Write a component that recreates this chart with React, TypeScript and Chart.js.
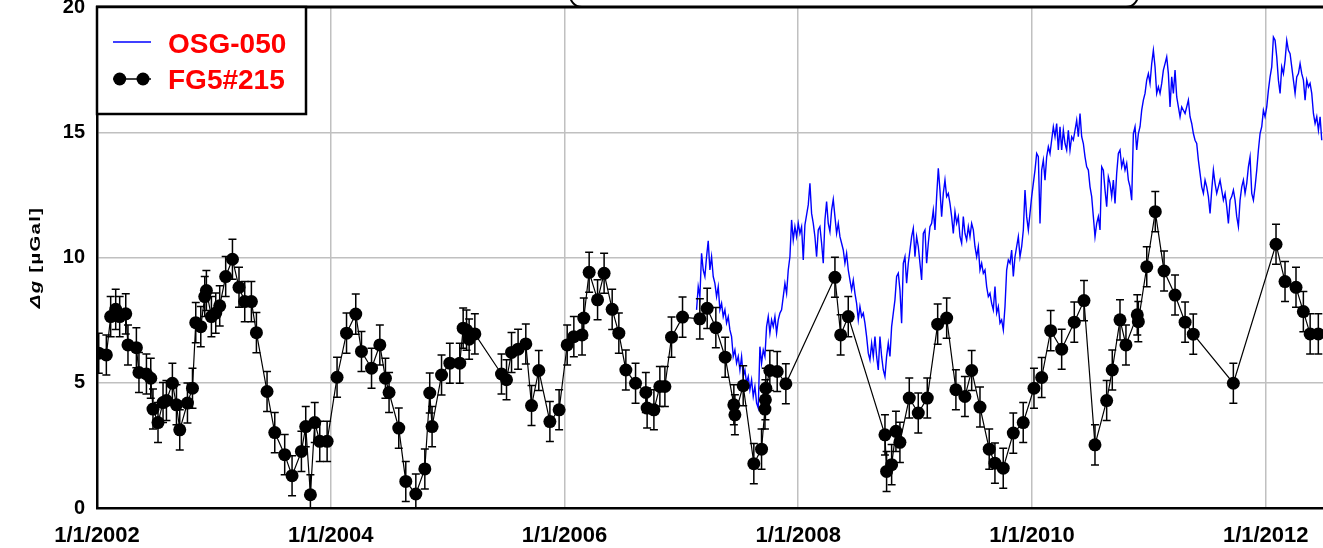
import React, { useEffect, useRef } from "react";
import { Chart, registerables } from "chart.js";

Chart.register(...registerables);

// ---------- axis data ----------
const X_MIN = 2002;
const X_MAX = 2012.49;
const X_TICK_YEARS = [2002, 2004, 2006, 2008, 2010, 2012];
const X_TICK_LABELS = ["1/1/2002", "1/1/2004", "1/1/2006", "1/1/2008", "1/1/2010", "1/1/2012"];
const Y_MIN = 0;
const Y_MAX = 20;
const Y_TICKS = [0, 5, 10, 15, 20];
const Y_TITLE_ITALIC = "\u0394g";
const Y_TITLE_REST = " [\u00B5Gal]";

// ---------- series labels ----------
const OSG_LABEL = "OSG-050";
const FG5_LABEL = "FG5#215";

// ---------- FG5#215 absolute gravity (decimal year, µGal) ----------
const FG5_DATES = [
  2002.015, 2002.080, 2002.117, 2002.160, 2002.194, 2002.246, 2002.265, 2002.337, 2002.359, 2002.423,
  2002.460, 2002.479, 2002.522, 2002.565, 2002.594, 2002.645, 2002.680, 2002.708, 2002.774, 2002.817,
  2002.845, 2002.888, 2002.922, 2002.936, 2002.979, 2003.016, 2003.050, 2003.101, 2003.159, 2003.215,
  2003.264, 2003.321, 2003.364, 2003.455, 2003.521, 2003.606, 2003.669, 2003.749, 2003.786, 2003.826,
  2003.863, 2003.906, 2003.969, 2004.054, 2004.135, 2004.214, 2004.263, 2004.349, 2004.420, 2004.468,
  2004.499, 2004.582, 2004.642, 2004.728, 2004.805, 2004.847, 2004.867, 2004.948, 2005.019,
  2005.104, 2005.133, 2005.162, 2005.184, 2005.233, 2005.461, 2005.504, 2005.547, 2005.603, 2005.669,
  2005.718, 2005.780, 2005.875, 2005.954, 2006.023, 2006.080, 2006.150, 2006.165, 2006.211, 2006.283,
  2006.339, 2006.408, 2006.465, 2006.525, 2006.608, 2006.696, 2006.707, 2006.765, 2006.816, 2006.859,
  2006.916, 2007.010, 2007.158, 2007.221, 2007.295, 2007.375, 2007.449, 2007.458, 2007.529, 2007.620,
  2007.686, 2007.715, 2007.719, 2007.723, 2007.757, 2007.820, 2007.894, 2008.314, 2008.363, 2008.428,
  2008.742, 2008.756, 2008.799, 2008.836, 2008.870, 2008.950, 2009.027, 2009.104, 2009.193, 2009.270,
  2009.349, 2009.426, 2009.484, 2009.555, 2009.634, 2009.683, 2009.754, 2009.840, 2009.925, 2010.017,
  2010.083, 2010.160, 2010.254, 2010.362, 2010.445, 2010.539, 2010.639, 2010.687, 2010.753, 2010.804,
  2010.901, 2010.910, 2010.982, 2011.055, 2011.130, 2011.224, 2011.310, 2011.380, 2011.723, 2012.088,
  2012.165, 2012.259, 2012.322, 2012.380, 2012.450,
];
const FG5_VALUES = [
  6.18, 6.11, 7.64, 7.93, 7.64, 7.75, 6.51, 6.40, 5.41, 5.35,
  5.18, 3.95, 3.41, 4.21, 4.29, 4.98, 4.12, 3.12, 4.19, 4.78,
  7.40, 7.24, 8.44, 8.68, 7.64, 7.78, 8.07, 9.24, 9.93, 8.81,
  8.24, 8.24, 7.00, 4.65, 3.01, 2.13, 1.29, 2.26, 3.25, 0.53,
  3.41, 2.66, 2.66, 5.22, 6.98, 7.74, 6.25, 5.58, 6.51, 5.18,
  4.61, 3.19, 1.06, 0.56, 1.56, 4.59, 3.25, 5.31, 5.78,
  5.78, 7.18, 7.10, 6.74, 6.95, 5.35, 5.12, 6.21, 6.34, 6.55,
  4.09, 5.49, 3.45, 3.92, 6.51, 6.84, 6.91, 7.58, 9.41, 8.31,
  9.37, 7.93, 6.98, 5.51, 4.98, 4.61, 3.99, 3.92, 4.85, 4.85,
  6.82, 7.62, 7.55, 7.97, 7.20, 6.02, 4.12, 3.72, 4.88, 1.77,
  2.35, 3.95, 4.32, 4.78, 5.49, 5.45, 4.96, 9.21, 6.91, 7.64,
  2.92, 1.46, 1.73, 3.06, 2.62, 4.39, 3.79, 4.39, 7.34, 7.58,
  4.72, 4.45, 5.49, 4.03, 2.35, 1.79, 1.59, 2.99, 3.41, 4.78,
  5.21, 7.08, 6.34, 7.42, 8.28, 2.52, 4.29, 5.51, 7.51, 6.51,
  7.71, 7.44, 9.63, 11.83, 9.46, 8.50, 7.42, 6.94, 4.98, 10.53,
  9.04, 8.81, 7.84, 6.95, 6.95,
];
const FG5_SIGMA = 0.8; // µGal, error bar half-length

// ---------- OSG-050 superconducting gravimeter (regular sampling) ----------
const OSG_T0 = 2007.13; // decimal year of first sample
const OSG_DT = 0.014265; // years between samples
const OSG_VALUES = [
  7.91, 8.84, 8.44, 10.17, 9.50, 9.24, 10.03, 10.67, 9.50, 10.03,
  9.24, 8.97, 8.44, 8.84, 7.91, 8.17, 7.64, 7.91, 7.38, 7.64,
  7.11, 6.84, 6.05, 6.31, 5.78, 6.05, 5.51, 6.05, 5.25, 5.51,
  4.98, 5.25, 4.72, 5.12, 4.45, 4.85, 4.19, 3.99, 6.44, 5.78,
  6.31, 6.05, 7.24, 7.64, 6.98, 7.51, 7.24, 7.64, 6.98, 7.51,
  7.78, 7.91, 8.44, 8.97, 8.57, 9.50, 10.03, 11.50, 10.70, 11.23,
  10.83, 11.36, 10.96, 11.23, 9.90, 11.30, 11.70, 12.10, 12.96, 11.76,
  11.36, 10.83, 10.03, 11.10, 11.23, 10.57, 9.77, 11.50, 12.23, 11.36,
  11.03, 11.89, 12.32, 11.63, 10.96, 11.36, 10.83, 10.57, 10.30, 9.77,
  10.17, 9.50, 9.10, 8.70, 9.10, 8.57, 8.17, 7.51, 8.04, 7.64,
  7.78, 7.38, 6.84, 6.18, 5.91, 6.58, 6.05, 6.84, 6.05, 5.51,
  6.84, 6.05, 5.51, 5.25, 6.05, 6.58, 6.05, 7.24, 7.78, 8.31,
  9.24, 9.37, 8.70,
  7.38, 9.77, 10.03, 8.97, 9.77, 10.30, 10.83, 11.16, 10.03, 10.83,
  10.43, 9.77, 9.10, 10.96, 11.10, 9.77, 10.57, 11.23, 11.36, 11.89,
  11.10, 12.43, 13.56, 12.69, 11.63, 12.56, 13.09, 12.43, 12.56, 12.16,
  11.63, 10.96, 11.83, 11.36, 11.63, 10.83, 10.57, 11.63, 10.96, 10.70,
  11.23, 10.83, 11.36, 11.10, 10.43, 10.03, 10.43, 9.50, 9.77, 9.37,
  9.50, 8.84, 8.44, 8.57, 8.17, 7.91, 8.84, 7.78, 8.04, 7.38,
  7.51, 7.11, 8.04, 9.50, 9.90, 9.77, 10.30, 9.24, 10.03, 10.43,
  10.83, 10.03, 10.43, 11.10, 12.69, 11.63, 11.10, 11.76, 12.43, 12.96,
  13.49, 14.15, 14.02, 11.36, 13.49, 13.89, 13.09, 14.02, 14.42, 14.15,
  14.69, 15.22, 14.82, 15.35, 14.29, 15.22, 14.29, 15.08, 14.55, 14.29,
  15.08, 14.29, 14.82, 14.69, 15.08, 15.48, 14.82, 15.75, 14.82, 14.55,
  14.02, 13.62, 13.49, 12.82, 12.43, 11.63, 10.83, 11.36, 11.63, 11.10,
  13.62, 13.49, 12.69, 12.03, 13.22, 12.96, 12.43, 13.09, 12.16, 13.36,
  14.15,
  14.29, 13.62, 13.89, 13.49, 13.76, 13.09, 12.82, 12.29, 14.95, 15.22,
  14.29, 14.95, 15.22, 15.88, 16.28, 16.55, 17.08, 17.34, 16.95, 17.74,
  18.27, 17.61, 16.55, 16.81, 16.55, 16.95, 17.48, 17.74, 18.01, 17.34,
  16.01, 17.21, 16.55, 17.48, 16.41, 16.01, 15.62, 16.01, 15.88, 15.75,
  16.01, 16.28, 15.62, 15.35, 14.95, 14.68, 14.55, 13.89, 13.36, 12.82,
  12.56, 13.09, 12.82, 12.43, 11.76, 12.69, 13.49, 12.96, 12.56, 12.82,
  13.09, 12.69, 12.29, 12.56, 12.03, 11.36, 12.29, 12.43, 12.69, 12.29,
  11.63, 11.23, 12.29, 12.82, 13.09, 12.56, 12.96, 13.62, 14.02, 12.56,
  12.29, 12.82, 13.49, 14.29, 14.95, 15.22, 15.88, 15.62, 16.01, 16.68,
  17.21, 17.61, 18.80, 18.67, 18.01, 17.08, 16.55, 17.61, 17.34, 17.87,
  18.67, 18.27, 18.14, 17.61, 17.08, 16.55, 17.21, 17.34, 17.74, 17.34,
  17.08, 16.28, 17.08, 16.81, 16.95, 16.55, 15.75, 15.35, 15.62, 15.08,
  15.62, 14.68,
];

const FONT_FAMILY = '"Liberation Sans", Arial, Helvetica, sans-serif';

const errorBarsPlugin = {
  id: "fg5ErrorBars",
  beforeDatasetDraw(chart: any, args: any) {
    if (chart.data.datasets[args.index].label !== FG5_LABEL) return;
    const { ctx, chartArea } = chart;
    const xs = chart.scales.x;
    const ys = chart.scales.y;
    ctx.save();
    ctx.beginPath();
    ctx.rect(chartArea.left, chartArea.top, chartArea.right - chartArea.left, chartArea.bottom - chartArea.top);
    ctx.clip();
    ctx.strokeStyle = "#000";
    ctx.lineWidth = 1.5;
    FG5_DATES.forEach((d, i) => {
      const px = xs.getPixelForValue(d);
      const top = ys.getPixelForValue(FG5_VALUES[i] + FG5_SIGMA);
      const bot = ys.getPixelForValue(FG5_VALUES[i] - FG5_SIGMA);
      ctx.beginPath();
      ctx.moveTo(px, top);
      ctx.lineTo(px, bot);
      ctx.moveTo(px - 4, top);
      ctx.lineTo(px + 4, top);
      ctx.moveTo(px - 4, bot);
      ctx.lineTo(px + 4, bot);
      ctx.stroke();
    });
    ctx.restore();
  },
};

const decorPlugin = {
  id: "decor",
  afterDraw(chart: any) {
    const { ctx, chartArea } = chart;
    const { left, top, right, bottom } = chartArea;
    ctx.save();

    // partially visible rounded title frame above the plot
    ctx.strokeStyle = "#000";
    ctx.lineWidth = 2;
    ctx.beginPath();
    ctx.roundRect(570, top - 67, 568, 67, 12);
    ctx.stroke();

    // top border of plot
    ctx.lineWidth = 3;
    ctx.beginPath();
    ctx.moveTo(left - 1, top);
    ctx.lineTo(right, top);
    ctx.stroke();

    // legend box
    const lw = 209;
    const lh = 107;
    ctx.fillStyle = "#fff";
    ctx.fillRect(left, top, lw, lh);
    ctx.lineWidth = 2.5;
    ctx.strokeRect(left, top, lw, lh);

    const ds = chart.data.datasets;
    const osg = ds.find((d: any) => d.label === OSG_LABEL);
    const fg5 = ds.find((d: any) => d.label === FG5_LABEL);

    // OSG sample
    ctx.strokeStyle = osg.borderColor;
    ctx.lineWidth = 1.5;
    ctx.beginPath();
    ctx.moveTo(left + 16, top + 35);
    ctx.lineTo(left + 54, top + 35);
    ctx.stroke();
    // FG5 sample
    ctx.strokeStyle = fg5.borderColor;
    ctx.beginPath();
    ctx.moveTo(left + 16, top + 72);
    ctx.lineTo(left + 54, top + 72);
    ctx.stroke();
    ctx.fillStyle = fg5.pointBackgroundColor;
    [22.7, 46].forEach((dx) => {
      ctx.beginPath();
      ctx.arc(left + dx, top + 72, 6.5, 0, Math.PI * 2);
      ctx.fill();
    });

    ctx.fillStyle = "#ff0000";
    ctx.font = `bold 28px ${FONT_FAMILY}`;
    ctx.textAlign = "left";
    ctx.textBaseline = "alphabetic";
    ctx.fillText(osg.label, left + 71, top + 46);
    ctx.fillText(fg5.label, left + 71, top + 81.6);

    // y-axis title (italic Δg + bold [µGal]), wide letters
    ctx.fillStyle = "#000";
    ctx.translate(40, (top + bottom) / 2);
    ctx.rotate(-Math.PI / 2);
    ctx.scale(1.35, 1);
    (ctx as any).letterSpacing = "1px";
    const fItal = `italic bold 15px ${FONT_FAMILY}`;
    const fBold = `bold 15px ${FONT_FAMILY}`;
    ctx.font = fItal;
    const w1 = ctx.measureText(Y_TITLE_ITALIC).width;
    ctx.font = fBold;
    const w2 = ctx.measureText(Y_TITLE_REST).width;
    const start = -(w1 + w2) / 2;
    ctx.font = fItal;
    ctx.fillText(Y_TITLE_ITALIC, start, 0);
    ctx.font = fBold;
    ctx.fillText(Y_TITLE_REST, start + w1, 0);
    (ctx as any).letterSpacing = "0px";

    ctx.restore();
  },
};

export default function App() {
  const canvasRef = useRef<HTMLCanvasElement | null>(null);

  useEffect(() => {
    document.body.style.margin = "0";
    const canvas = canvasRef.current;
    if (!canvas) return;

    const osgData = OSG_VALUES.map((v, i) => ({ x: OSG_T0 + i * OSG_DT, y: v }));
    const fg5Data = FG5_DATES.map((d, i) => ({ x: d, y: FG5_VALUES[i] }));

    const chart = new Chart(canvas, {
      type: "line",
      data: {
        datasets: [
          {
            label: FG5_LABEL,
            data: fg5Data,
            order: 0,
            borderColor: "#000000",
            borderWidth: 1.2,
            pointRadius: 6.5,
            pointBackgroundColor: "#000000",
            pointBorderColor: "#000000",
            pointBorderWidth: 0,
            tension: 0,
          },
          {
            label: OSG_LABEL,
            data: osgData,
            order: 1,
            borderColor: "#0000ff",
            borderWidth: 1.4,
            pointRadius: 0,
            tension: 0,
          },
        ],
      },
      options: {
        animation: false,
        responsive: false,
        maintainAspectRatio: false,
        events: [],
        layout: { autoPadding: false, padding: { top: 7, right: 0, left: 0, bottom: 0 } },
        plugins: {
          legend: { display: false },
          tooltip: { enabled: false },
          title: { display: false },
        },
        scales: {
          x: {
            type: "linear",
            min: X_MIN,
            max: X_MAX,
            afterBuildTicks: (s: any) => {
              s.ticks = X_TICK_YEARS.map((v) => ({ value: v }));
            },
            afterFit: (s: any) => {
              s.height = 40;
              s.paddingLeft = 0;
              s.paddingRight = 0;
            },
            ticks: {
              callback: (_v: any, i: number) => X_TICK_LABELS[i],
              font: { family: FONT_FAMILY, size: 22, weight: "bold" },
              color: "#000",
              padding: 15,
              maxRotation: 0,
              autoSkip: false,
            },
            grid: { color: "#c0c0c0", lineWidth: 1.5, drawTicks: false },
            border: { color: "#000", width: 2.5 },
          },
          y: {
            min: Y_MIN,
            max: Y_MAX,
            afterBuildTicks: (s: any) => {
              s.ticks = Y_TICKS.map((v) => ({ value: v }));
            },
            afterFit: (s: any) => {
              s.width = 97;
              s.paddingTop = 0;
              s.paddingBottom = 0;
            },
            ticks: {
              callback: (v: any) => String(v),
              font: { family: FONT_FAMILY, size: 20, weight: "bold" },
              color: "#000",
              padding: 12,
            },
            grid: { color: "#c0c0c0", lineWidth: 1.5, drawTicks: false },
            border: { color: "#000", width: 2.5 },
          },
        },
      },
      plugins: [errorBarsPlugin, decorPlugin],
    } as any);

    return () => chart.destroy();
  }, []);

  return (
    <div style={{ position: "absolute", left: 0, top: 0, width: 1323, height: 548, background: "#fff" }}>
      <canvas ref={canvasRef} width={1323} height={548} style={{ display: "block", width: 1323, height: 548 }} />
    </div>
  );
}
